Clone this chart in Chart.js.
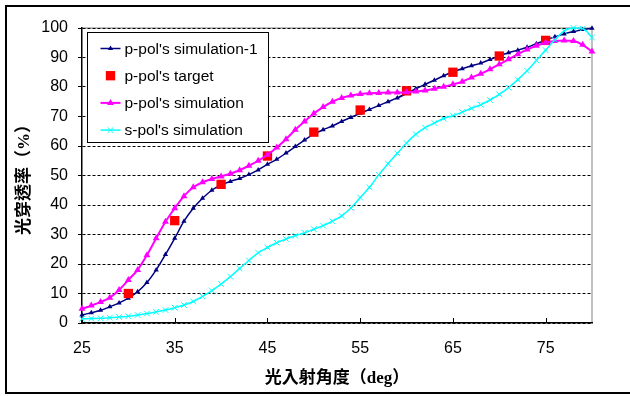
<!DOCTYPE html>
<html lang="zh-Hant">
<head>
  <meta charset="UTF-8" />
  <title>光穿透率</title>
  <script src="https://cdn.jsdelivr.net/npm/chart.js"></script>
  <style>
    html, body { margin: 0; padding: 0; background: #fff; overflow: hidden; }
    #wrap { position: relative; width: 630px; height: 396px; }
    #frame { position: absolute; left: 5px; top: 5px; width: 640px; height: 385px; border: 2px solid #000; pointer-events: none; }
  </style>
</head>
<body>
  <div id="wrap">
    <canvas id="chart"></canvas>
    <div id="frame"></div>
  </div>
  <script>
    // incidence angles (deg)
    const angles = [25, 26, 27, 28, 29, 30, 31, 32, 33, 34, 35, 36, 37, 38, 39, 40, 41, 42, 43, 44,
                    45, 46, 47, 48, 49, 50, 51, 52, 53, 54, 55, 56, 57, 58, 59, 60, 61, 62, 63, 64,
                    65, 66, 67, 68, 69, 70, 71, 72, 73, 74, 75, 76, 77, 78, 79, 80];
    const targetAngles = [30, 35, 40, 45, 50, 55, 60, 65, 70, 75];

    const pSim1 = [2.7, 3.5, 4.3, 5.5, 6.8, 8.4, 10.6, 13.7, 18, 23.2, 28.7, 34.5, 38.9, 42.3, 45, 46.8, 48, 49, 50.3, 51.9,
                   53.8, 55.5, 57.6, 59.8, 62, 64, 65.5, 66.8, 68.3, 69.7, 71.1, 72.4, 73.7, 75, 76.3, 77.8, 79.4, 80.9, 82.3, 83.8,
                   85.1, 86.2, 87.2, 88.1, 89.3, 90.5, 91.6, 92.5, 93.5, 94.7, 95.9, 97, 98, 98.8, 99.5, 99.9];
    const pTarget = [10, 34.7, 47, 56.6, 64.7, 72.2, 78.7, 85, 90.5, 95.8];
    const pSim = [4.8, 5.9, 7.1, 8.6, 11.2, 14.6, 18, 23, 28.7, 34.3, 38.9, 43, 46, 47.7, 48.8, 49.7, 50.6, 51.8, 53.3, 55,
                  57, 59.5, 62.3, 65.5, 68.3, 71, 73.2, 75, 76.3, 77.1, 77.6, 77.9, 78, 78.1, 78.1, 78.2, 78.5, 78.8, 79.4, 80.1,
                  80.9, 81.8, 83.2, 84.5, 86, 87.7, 89.4, 91.1, 92.7, 94, 95, 95.6, 95.8, 95.6, 94.3, 92];
    const sSim = [1.4, 1.5, 1.6, 1.8, 2, 2.3, 2.7, 3.2, 3.8, 4.4, 5.2, 6.1, 7.3, 9, 11, 13.2, 15.7, 18.5, 21.2, 23.8,
                  25.6, 27.2, 28.5, 29.6, 30.6, 31.8, 33, 34.5, 36.3, 39, 42.5, 46, 50.2, 54, 57.5, 61, 64, 66.2, 67.8, 69.3,
                  70.3, 71.5, 72.8, 74, 75.6, 77.5, 79.8, 82.5, 85.5, 89, 92.5, 96, 99, 100, 99.8, 96.8];

    const seriesNames = ["p-pol's simulation-1", "p-pol's target", "p-pol's simulation", "s-pol's simulation"];
    const xTicks = [25, 35, 45, 55, 65, 75];
    const yTicks = [0, 10, 20, 30, 40, 50, 60, 70, 80, 90, 100];
    const xTitle = "光入射角度（deg）";
    const yTitle = "光穿透率（%）";

    const SANS = '"Liberation Sans", Arial, sans-serif';
    const TITLE_FONT = '"Liberation Serif", "Noto Sans CJK TC", serif';

    const toXY = (xs, ys) => xs.map((x, i) => ({ x: x, y: ys[i] }));

    function drawMarker(ctx, style, r, x, y, color, lw) {
      ctx.save();
      ctx.fillStyle = color;
      ctx.strokeStyle = color;
      ctx.lineWidth = lw;
      ctx.beginPath();
      if (style === "triangle") {
        ctx.moveTo(x, y - r);
        ctx.lineTo(x + r * 0.866, y + r * 0.5);
        ctx.lineTo(x - r * 0.866, y + r * 0.5);
        ctx.closePath();
        ctx.fill();
      } else if (style === "rect") {
        const s = r * Math.SQRT1_2;
        ctx.rect(x - s, y - s, 2 * s, 2 * s);
        ctx.fill();
      } else {
        const s = r * Math.SQRT1_2;
        ctx.moveTo(x - s, y - s); ctx.lineTo(x + s, y + s);
        ctx.moveTo(x + s, y - s); ctx.lineTo(x - s, y + s);
        ctx.stroke();
      }
      ctx.restore();
    }

    // gray frame on top / right of plot area
    const plotFrame = {
      id: "plotFrame",
      beforeDraw(chart) {
        const { ctx, chartArea: a } = chart;
        ctx.save();
        ctx.strokeStyle = "#c0c0c0";
        ctx.lineWidth = 2;
        ctx.beginPath();
        ctx.moveTo(a.left, a.top);
        ctx.lineTo(a.right, a.top);
        ctx.lineTo(a.right, a.bottom);
        ctx.stroke();
        ctx.restore();
      },
      beforeDatasetsDraw(chart) {
        // x tick marks point inward
        const { ctx, chartArea: a } = chart;
        const xs = chart.scales.x;
        ctx.save();
        ctx.strokeStyle = "#000";
        ctx.lineWidth = 1;
        ctx.beginPath();
        xTicks.forEach(v => {
          const px = Math.round(xs.getPixelForValue(v)) + 0.5;
          ctx.moveTo(px, a.bottom);
          ctx.lineTo(px, a.bottom - 5);
        });
        ctx.stroke();
        ctx.restore();
      }
    };

    const boxLegend = {
      id: "boxLegend",
      afterDraw(chart) {
        const { ctx, chartArea: a } = chart;
        const left = a.left + 5.5, top = a.top + 4.5, w = 181, h = 110;
        ctx.save();
        ctx.fillStyle = "#fff";
        ctx.fillRect(left, top, w, h);
        ctx.strokeStyle = "#000";
        ctx.lineWidth = 1;
        ctx.strokeRect(left, top, w, h);
        ctx.font = "15.5px " + SANS;
        ctx.textBaseline = "middle";
        chart.data.datasets.forEach((ds, i) => {
          const y = top + 16 + i * 27.2;
          if (ds.showLine !== false) {
            ctx.strokeStyle = ds.borderColor;
            ctx.lineWidth = ds.borderWidth;
            ctx.beginPath();
            ctx.moveTo(left + 13, y);
            ctx.lineTo(left + 33, y);
            ctx.stroke();
          }
          drawMarker(ctx, ds.pointStyle, ds.pointRadius, left + 23, y, ds.pointBackgroundColor, 1);
          ctx.fillStyle = "#000";
          ctx.fillText(ds.label, left + 37, y + 1);
        });
        ctx.restore();
      }
    };

    const ctx = document.getElementById("chart").getContext("2d");
    new Chart(ctx, {
      type: "line",
      data: {
        datasets: [
          {
            label: seriesNames[0], data: toXY(angles, pSim1),
            borderColor: "#000080", backgroundColor: "#000080", borderWidth: 1.5,
            pointStyle: "triangle", pointRadius: 3, pointBackgroundColor: "#000080", pointBorderColor: "#000080", pointBorderWidth: 0,
            cubicInterpolationMode: "monotone", clip: false, order: 3
          },
          {
            label: seriesNames[1], data: toXY(targetAngles, pTarget), showLine: false,
            borderColor: "#ff0000", backgroundColor: "#ff0000", borderWidth: 0,
            pointStyle: "rect", pointRadius: 6.6, pointBackgroundColor: "#ff0000", pointBorderColor: "#ff0000", pointBorderWidth: 0,
            clip: false, order: 2
          },
          {
            label: seriesNames[2], data: toXY(angles, pSim),
            borderColor: "#ff00ff", backgroundColor: "#ff00ff", borderWidth: 2,
            pointStyle: "triangle", pointRadius: 4, pointBackgroundColor: "#ff00ff", pointBorderColor: "#ff00ff", pointBorderWidth: 0,
            cubicInterpolationMode: "monotone", clip: false, order: 1
          },
          {
            label: seriesNames[3], data: toXY(angles, sSim),
            borderColor: "#00ffff", backgroundColor: "#00ffff", borderWidth: 1.5,
            pointStyle: "crossRot", pointRadius: 4, pointBackgroundColor: "#00ffff", pointBorderColor: "#00ffff", pointBorderWidth: 1,
            cubicInterpolationMode: "monotone", clip: false, order: 0
          }
        ]
      },
      options: {
        responsive: true,
        maintainAspectRatio: false,
        animation: false,
        events: [],
        layout: { padding: { left: 0, top: 28, right: 38, bottom: 0 } },
        plugins: { legend: { display: false }, tooltip: { enabled: false } },
        scales: {
          x: {
            type: "linear", min: 25, max: 80,
            afterBuildTicks: s => { s.ticks = xTicks.map(v => ({ value: v })); },
            afterFit: s => { s.height = 73; },
            grid: { drawOnChartArea: false, drawTicks: false },
            border: { color: "#000", width: 1.5 },
            ticks: { color: "#000", font: { family: SANS, size: 16 }, padding: 16, maxRotation: 0, autoSkip: false },
            title: { display: true, text: xTitle, color: "#000", font: { family: TITLE_FONT, size: 17, weight: "bold" }, padding: { top: 0, bottom: 7 } }
          },
          y: {
            min: 0, max: 100,
            afterBuildTicks: s => { s.ticks = yTicks.map(v => ({ value: v })); },
            afterFit: s => { s.width = 82; },
            grid: { color: "#000", lineWidth: 1, tickLength: 4, tickColor: "#000", tickBorderDash: [], tickWidth: 1 },
            border: { color: "#000", width: 1.5, dash: [3, 2] },
            ticks: { color: "#000", font: { family: SANS, size: 16 }, padding: 10, autoSkip: false },
            title: { display: true, text: yTitle, color: "#000", font: { family: TITLE_FONT, size: 17, weight: "bold" }, padding: { top: 14, bottom: 0 } }
          }
        }
      },
      plugins: [plotFrame, boxLegend]
    });
  </script>
</body>
</html>
